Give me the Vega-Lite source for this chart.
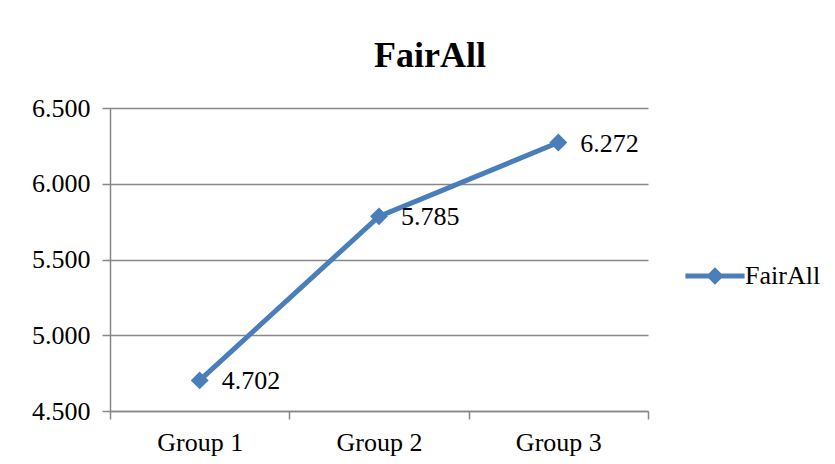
{
  "$schema": "https://vega.github.io/schema/vega-lite/v6.json",
  "width": 538,
  "height": 303,
  "autosize": "none",
  "padding": {"left": 110, "top": 108, "right": 187, "bottom": 53},
  "background": "white",
  "title": {
    "text": "FairAll",
    "font": "Liberation Serif",
    "fontSize": 36,
    "fontWeight": "bold",
    "color": "black",
    "anchor": "middle",
    "dx": 51,
    "offset": -8,
    "baseline": "alphabetic"
  },
  "config": {
    "view": {"stroke": null},
    "font": "Liberation Serif"
  },
  "data": {
    "values": [
      {"group": "Group 1", "value": 4.702, "series": "FairAll"},
      {"group": "Group 2", "value": 5.785, "series": "FairAll"},
      {"group": "Group 3", "value": 6.272, "series": "FairAll"}
    ]
  },
  "encoding": {
    "x": {
      "field": "group",
      "type": "nominal",
      "scale": {"paddingInner": 0, "paddingOuter": 0},
      "axis": {
        "title": null,
        "labelAngle": 0,
        "labelFont": "Liberation Serif",
        "labelFontSize": 26,
        "labelColor": "black",
        "labelPadding": 10,
        "domainColor": "#878787",
        "domainWidth": 1.5,
        "tickColor": "#878787",
        "tickWidth": 1.5,
        "tickSize": 8,
        "tickBand": "extent",
        "grid": false
      }
    },
    "y": {
      "field": "value",
      "type": "quantitative",
      "scale": {"domain": [4.5, 6.5], "nice": false, "zero": false},
      "axis": {
        "title": null,
        "values": [4.5, 5, 5.5, 6, 6.5],
        "format": ".3f",
        "labelFont": "Liberation Serif",
        "labelFontSize": 26,
        "labelColor": "black",
        "labelPadding": 12,
        "domainColor": "#878787",
        "domainWidth": 1.5,
        "tickColor": "#878787",
        "tickWidth": 1.5,
        "tickSize": 8,
        "grid": true,
        "gridColor": "#878787",
        "gridWidth": 1.5
      }
    }
  },
  "layer": [
    {
      "mark": {"type": "line", "color": "#4A7EBB", "strokeWidth": 5},
      "encoding": {
        "color": {
          "field": "series",
          "type": "nominal",
          "scale": {"range": ["#4A7EBB"]},
          "legend": {
            "title": null,
            "orient": "none",
            "legendX": 589,
            "legendY": 152,
            "padding": 0,
            "symbolType": "M-1.85,-0.16H1.85V0.16H-1.85Z M0,-0.55L0.55,0L0,0.55L-0.55,0Z",
            "symbolSize": 1024,
            "symbolFillColor": "#4A7EBB",
            "symbolStrokeColor": "#4A7EBB",
            "symbolStrokeWidth": 0,
            "labelFont": "Liberation Serif",
            "labelFontSize": 26,
            "labelColor": "black",
            "labelOffset": 14
          }
        }
      }
    },
    {
      "mark": {"type": "point", "shape": "diamond", "filled": true, "size": 320, "color": "#4A7EBB", "opacity": 1}
    },
    {
      "mark": {"type": "text", "align": "left", "baseline": "middle", "dx": 22, "dy": 1, "font": "Liberation Serif", "fontSize": 26, "color": "black"},
      "encoding": {
        "text": {"field": "value", "type": "quantitative", "format": ".3f"}
      }
    }
  ]
}
